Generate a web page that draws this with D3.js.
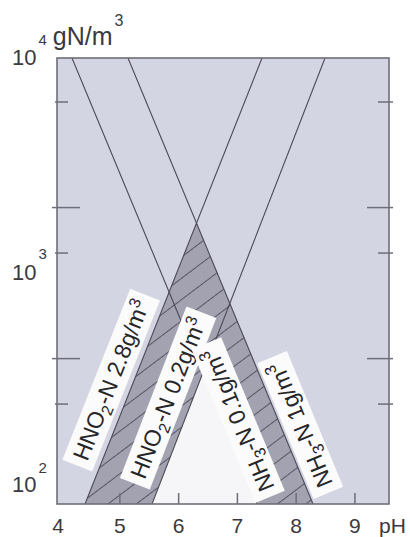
<!DOCTYPE html>
<html><head><meta charset="utf-8">
<script src="https://cdn.jsdelivr.net/npm/d3@7"></script>
<style>
html,body{margin:0;padding:0;background:#fff;}
svg{display:block;font-family:"Liberation Sans",Arial,Helvetica,sans-serif;}
</style></head><body>
<svg id="c" width="410" height="537"></svg>
<script>
// ---------- data ----------
const pHTicks = [4, 5, 6, 7, 8, 9];
const concShortTicks = [100, 1000, 10000];
const concLongTicks = [200, 2000];
const pHDomain = [3.93, 9.58];
const concDomain = [21.8, 19560];
// NH3-N iso-lines (g/m3): [pH, total N g/m3] end points
const nh3Names = ["0.1", "1"];
const nh3Lines = [
  [[4.185, 19560], [7.334, 21.8]],
  [[5.138, 19560], [8.287, 21.8]]
];
// HNO2-N iso-lines (g/m3)
const hno2Names = ["2.8", "0.2"];
const hno2Lines = [
  [[4.407, 21.8], [7.419, 19560]],
  [[5.547, 21.8], [8.491, 19560]]
];

// ---------- layout ----------
const L = 57, R = 389, T = 58, B = 504;
const svg = d3.select("#c");
const x = d3.scaleLinear().domain(pHDomain).range([L, R]);
const y = d3.scaleLog().domain(concDomain).range([B, T]);

function lg(p){ return [p[0], Math.log10(p[1])]; }
function intersect(a, b){
  const [p1,q1] = lg(a[0]), [p2,q2] = lg(a[1]), [p3,q3] = lg(b[0]), [p4,q4] = lg(b[1]);
  const d = (p1-p2)*(q3-q4) - (q1-q2)*(p3-p4);
  const t = ((p1-p3)*(q3-q4) - (q1-q3)*(p3-p4)) / d;
  return [p1 + t*(p2-p1), Math.pow(10, q1 + t*(q2-q1))];
}
const U1 = hno2Lines[0], U2 = hno2Lines[1], D1 = nh3Lines[0], D2 = nh3Lines[1];
const apexOuter = intersect(U1, D2);
const apexInner = intersect(U2, D1);
const bandPts = [U1[0], apexOuter, D2[1], D1[1], apexInner, U2[0]];
const innerPts = [U2[0], apexInner, D1[1]];
const poly = d3.line().x(d => x(d[0])).y(d => y(d[1]));

const defs = svg.append("defs");
defs.append("clipPath").attr("id","clip").append("rect")
  .attr("x", L).attr("y", T).attr("width", R-L).attr("height", B-T);
const pat = defs.append("pattern").attr("id","hatch")
  .attr("patternUnits","userSpaceOnUse").attr("width", 40).attr("height", 17)
  .attr("patternTransform","rotate(-37)");
pat.append("line").attr("x1",0).attr("x2",40).attr("y1",8.5).attr("y2",8.5)
  .attr("stroke","#4e4e5a").attr("stroke-width",0.9);

// plot background
svg.append("rect").attr("x",L).attr("y",T).attr("width",R-L).attr("height",B-T)
  .attr("fill","#d4d5e2");

const plot = svg.append("g").attr("clip-path","url(#clip)");
plot.append("path").attr("d", poly(bandPts) + "Z").attr("fill","#a2a2b1");
plot.append("path").attr("d", poly(bandPts) + "Z").attr("fill","url(#hatch)");
plot.append("path").attr("d", poly(innerPts) + "Z").attr("fill","#f6f6f8");

// iso-lines
plot.selectAll("path.iso").data(nh3Lines.concat(hno2Lines)).enter().append("path")
  .attr("class","iso").attr("d", d => poly(d)).attr("fill","none")
  .attr("stroke","#4a4a56").attr("stroke-width",1.1);

// frame
svg.append("rect").attr("x",L).attr("y",T).attr("width",R-L).attr("height",B-T)
  .attr("fill","none").attr("stroke","#6e6e7a").attr("stroke-width",1.6);

// ticks
const tk = svg.append("g").attr("stroke","#6e6e7a").attr("stroke-width",1.5);
concShortTicks.forEach(v => {
  tk.append("line").attr("x1",L-2).attr("x2",L+11).attr("y1",y(v)).attr("y2",y(v));
  tk.append("line").attr("x1",R-11).attr("x2",R+4).attr("y1",y(v)).attr("y2",y(v));
});
concLongTicks.forEach(v => {
  tk.append("line").attr("x1",L-5).attr("x2",L+23).attr("y1",y(v)).attr("y2",y(v));
  tk.append("line").attr("x1",R-22).attr("x2",R+4).attr("y1",y(v)).attr("y2",y(v));
});
pHTicks.filter(v => x(v) > L + 6).forEach(v => {
  tk.append("line").attr("x1",x(v)).attr("x2",x(v)).attr("y1",B).attr("y2",B-11);
});

// x tick labels
const txtCol = "#3a3a3e";
svg.selectAll("text.xt").data(pHTicks).enter().append("text").attr("class","xt")
  .attr("x", d => x(d) - (d === 4 ? 3 : 0)).attr("y", 533).attr("text-anchor","middle")
  .attr("font-size",21).attr("fill",txtCol).text(d => d);
svg.append("text").attr("x", 379).attr("y", 533).attr("font-size",21)
  .attr("fill",txtCol).text("pH");

// y labels
function powLabel(xr, base, exp, supDy, extra){
  const t = svg.append("text").attr("x", xr).attr("y", base).attr("font-size",22)
    .attr("fill",txtCol).attr("text-anchor","start");
  t.append("tspan").text("10");
  t.append("tspan").attr("font-size",15).attr("dx",2).attr("dy",supDy).text(exp);
  if (extra){
    t.append("tspan").attr("dx",6).attr("font-size",25).text("gN/m");
    t.append("tspan").attr("font-size",16).attr("dx",2).attr("dy",-19).text("3");
  }
  return t;
}
powLabel(12, 65, "4", -20, true);
powLabel(12, y(1000) + 27, "3", -21, false);
powLabel(12, 492, "2", -19, false);

// iso-line labels
function makeLabel(line, conc, dx, main, sub, val){
  const p0 = [x(line[0][0]), y(line[0][1])], p1 = [x(line[1][0]), y(line[1][1])];
  const cy = y(conc);
  const t = (cy - p0[1]) / (p1[1] - p0[1]);
  const cx = p0[0] + t*(p1[0]-p0[0]) + dx;
  let a = Math.atan2(p1[1]-p0[1], p1[0]-p0[0]) * 180/Math.PI;
  if (p1[1] > p0[1]) a = Math.atan2(p0[1]-p1[1], p0[0]-p1[0]) * 180/Math.PI;
  const g = svg.append("g").attr("transform", `translate(${cx},${cy}) rotate(${a})`);
  const rect = g.append("rect").attr("fill","#fbfbfb");
  const tx = g.append("text").attr("font-size",23).attr("fill","#262628")
    .attr("text-anchor","middle").attr("y",8);
  tx.append("tspan").text(main);
  tx.append("tspan").attr("font-size",16).attr("dy",5).text(sub);
  tx.append("tspan").attr("dy",-5).text("-N " + val + "g/m");
  tx.append("tspan").attr("font-size",16).attr("dy",-9).text("3");
  const bb = tx.node().getBBox();
  rect.attr("x", bb.x - 7).attr("y", -16).attr("width", bb.width + 14).attr("height", 32);
}
makeLabel(U1, 144, -23, "HNO", "2", hno2Names[0]);
makeLabel(U2, 109.6, -25, "HNO", "2", hno2Names[1]);
makeLabel(D1, 78.3, 16, "NH", "3", nh3Names[0]);
makeLabel(D2, 72.6, 20, "NH", "3", nh3Names[1]);
</script>
</body></html>
